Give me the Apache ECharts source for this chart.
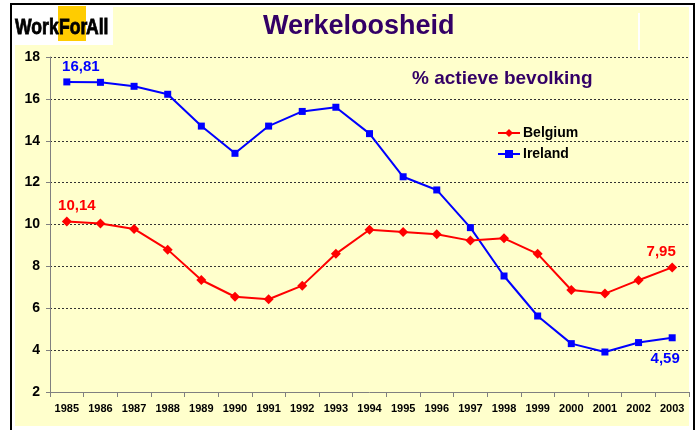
<!DOCTYPE html>
<html>
<head>
<meta charset="utf-8">
<script src="https://cdn.jsdelivr.net/npm/echarts@6/dist/echarts.min.js"></script>
<style>
  html, body { margin: 0; padding: 0; background: #fff; }
  #main { width: 696px; height: 430px; }
</style>
</head>
<body>
<div id="main"></div>
<script>
// jaren en werkloosheid (% actieve bevolking)
var years = ['1985','1986','1987','1988','1989','1990','1991','1992','1993','1994',
             '1995','1996','1997','1998','1999','2000','2001','2002','2003'];
var belgium = [10.14, 10.05, 9.79, 8.8, 7.35, 6.55, 6.43, 7.08, 8.6, 9.75,
               9.64, 9.53, 9.23, 9.34, 8.6, 6.87, 6.7, 7.34, 7.95];
var ireland = [16.81, 16.79, 16.6, 16.22, 14.7, 13.4, 14.7, 15.4, 15.6, 14.34,
               12.28, 11.65, 9.85, 7.54, 5.63, 4.31, 3.91, 4.36, 4.59];
var yTicks = [2, 4, 6, 8, 10, 12, 14, 16, 18];

var purple = '#330066';
var fmt = function (p) { return String(p.value).replace('.', ','); };

// alleen eerste en laatste punt krijgen een label
function withEndLabels(arr, color, firstOff, lastOff, lastPos) {
    return arr.map(function (v, i) {
        if (i === 0) {
            return { value: v, label: { show: true, position: 'top', offset: firstOff, color: color } };
        }
        if (i === arr.length - 1) {
            return { value: v, label: { show: true, position: lastPos, offset: lastOff, color: color } };
        }
        return v;
    });
}

// logo-tekst, smal en vet
function logoPart(txt, x) {
    return {
        type: 'text', x: x, y: 28, scaleX: 0.8,
        style: {
            text: txt, font: 'bold 22px Arial', fill: '#000',
            stroke: '#000', lineWidth: 0.8, verticalAlign: 'middle'
        }
    };
}

var myChart = echarts.init(document.getElementById('main'));
var option = {
    animation: false,
    textStyle: { fontFamily: 'Arial, "Liberation Sans", sans-serif' },
    graphic: [
        { type: 'rect', shape: { x: 11, y: 4, width: 683, height: 440 }, style: { fill: '#fff', stroke: '#000', lineWidth: 2 }, z: -10 },
        { type: 'rect', shape: { x: 15, y: 7, width: 674, height: 419 }, style: { fill: '#FFFFCC' }, z: -9 },
        { type: 'rect', shape: { x: 12, y: 5, width: 101, height: 40 }, style: { fill: '#fff' }, z: -8 },
        { type: 'rect', shape: { x: 58, y: 6, width: 28, height: 35 }, style: { fill: '#FFCC00' }, z: -7 },
        { type: 'rect', shape: { x: 638, y: 13, width: 2, height: 37 }, style: { fill: '#fff' }, z: -7 },
        logoPart('Work', 15),
        logoPart('For', 59),
        logoPart('All', 86)
    ],
    title: [
        {
            text: 'Werkeloosheid',
            left: 258, top: 8,
            textStyle: { fontSize: 27, fontWeight: 'bold', color: purple, fontFamily: 'Arial' }
        },
        {
            text: '% actieve bevolking',
            left: 407, top: 64,
            textStyle: { fontSize: 19, fontWeight: 'bold', color: purple, fontFamily: 'Arial' }
        }
    ],
    legend: {
        orient: 'vertical',
        left: 497, top: 126, padding: 0,
        itemWidth: 22, itemHeight: 10, itemGap: 7,
        textStyle: { fontSize: 14, fontWeight: 'bold', color: '#000', padding: [0, 0, 0, -2] },
        data: ['Belgium', 'Ireland']
    },
    grid: { left: 50, right: 7, top: 57, bottom: 38 },
    xAxis: {
        type: 'category',
        data: years,
        boundaryGap: true,
        axisLine: { lineStyle: { color: '#808080', width: 1 } },
        axisTick: { show: true, length: 5, alignWithLabel: false, lineStyle: { color: '#808080' } },
        axisLabel: { fontSize: 11, fontWeight: 'bold', color: '#000', margin: 11, interval: 0 },
        splitLine: { show: false }
    },
    yAxis: {
        type: 'value',
        min: 2, max: 18, interval: 2,
        axisLine: { show: true, lineStyle: { color: '#808080', width: 1 } },
        axisTick: { show: true, length: 4, lineStyle: { color: '#808080' } },
        axisLabel: {
            fontSize: 14, fontWeight: 'bold', color: '#000', margin: 10,
            formatter: function (v) { return yTicks.indexOf(v) >= 0 ? String(v) : ''; }
        },
        splitLine: { show: true, lineStyle: { color: '#333', type: [2, 2], width: 1 } }
    },
    series: [
        {
            name: 'Belgium',
            type: 'line',
            data: withEndLabels(belgium, '#FF0000', [10, 2], [-11, 2], 'top'),
            symbol: 'diamond', symbolSize: 10,
            itemStyle: { color: '#FF0000' },
            lineStyle: { color: '#FF0000', width: 2 },
            label: { fontSize: 15, fontWeight: 'bold', formatter: fmt },
            z: 3
        },
        {
            name: 'Ireland',
            type: 'line',
            data: withEndLabels(ireland, '#0000FF', [14, 1], [-7, 5], 'bottom'),
            symbol: 'rect', symbolSize: 7,
            itemStyle: { color: '#0000FF' },
            lineStyle: { color: '#0000FF', width: 2 },
            label: { fontSize: 15, fontWeight: 'bold', formatter: fmt },
            z: 2
        }
    ]
};
myChart.setOption(option);
</script>
</body>
</html>
